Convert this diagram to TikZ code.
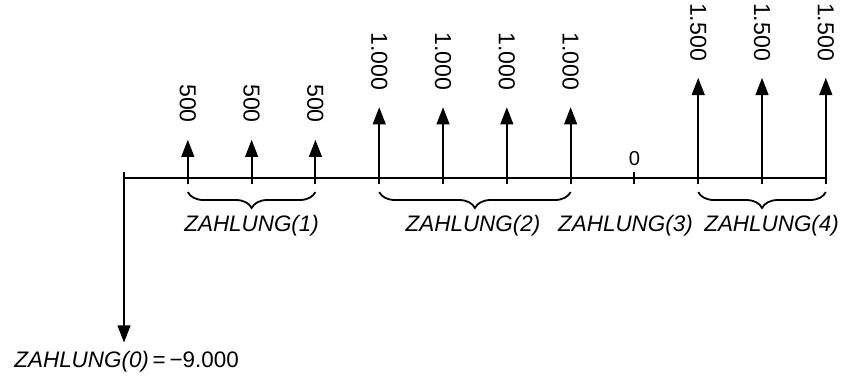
\documentclass[tikz,border=0pt]{standalone}
\usepackage{fontspec}
\setmainfont{Liberation Sans}
\usetikzlibrary{arrows.meta,positioning,decorations.pathreplacing}

\begin{document}
\begin{tikzpicture}[
  >={Triangle[length=2.7mm,width=2mm]},
  line width=0.9pt,
  amount/.style={rotate=-90,anchor=east,inner sep=0pt,
    font=\fontsize{10.3}{12}\selectfont},
  period/.style={inner sep=0pt,font=\fontsize{10}{12}\selectfont\itshape},
  brc/.style={decorate,decoration={brace,mirror,amplitude=2.5mm},
    line width=0.8pt},
  every edge/.style={draw,->,shorten >=2.5mm}
]
\useasboundingbox (-1.944,-3.088) rectangle (11.41,2.79);

% time axis
\coordinate (s0) at (0,0.1);
\coordinate (e0) at (0,-2.58);
\coordinate (tend) at (11,0);
\draw (0,0) -- (tend);
\draw[->] (s0) -- (e0);
\node[inner sep=0pt,font=\fontsize{10}{12}\selectfont] (z0) at (0.04,-2.875)
 {\textit{ZAHLUNG(0)}\,=\,−9.000};

% payments
\coordinate (p1) at (1,-0.1);  \node[amount] (v1) at (1,0.85) {500};
\coordinate (p2) at (2,-0.1);  \node[amount] (v2) at (2,0.85) {500};
\coordinate (p3) at (3,-0.1);  \node[amount] (v3) at (3,0.85) {500};
\coordinate (p4) at (4,-0.1);  \node[amount] (v4) at (4,1.36) {1.000};
\coordinate (p5) at (5,-0.1);  \node[amount] (v5) at (5,1.36) {1.000};
\coordinate (p6) at (6,-0.1);  \node[amount] (v6) at (6,1.36) {1.000};
\coordinate (p7) at (7,-0.1);  \node[amount] (v7) at (7,1.36) {1.000};
\coordinate (p9) at (9,-0.1);  \node[amount] (v9) at (9,1.82) {1.500};
\coordinate (p10) at (10,-0.1); \node[amount] (v10) at (10,1.82) {1.500};
\coordinate (p11) at (11,-0.1); \node[amount] (v11) at (11,1.82) {1.500};

\path (p1) edge (v1)
      (p2) edge (v2)
      (p3) edge (v3)
      (p4) edge (v4)
      (p5) edge (v5)
      (p6) edge (v6)
      (p7) edge (v7)
      (p9) edge (v9)
      (p10) edge (v10)
      (p11) edge (v11);

% zero payment
\coordinate (p8) at (8,-0.1);
\draw (p8) -- (8,0.1);
\node[inner sep=0pt,font=\fontsize{9}{10}\selectfont] (v8) at (8,0.3) {0};

% periods
\draw[brc] ([yshift=-1.2mm]p1) -- ([yshift=-1.2mm]p3);
\draw[brc] ([yshift=-1.2mm]p4) -- ([yshift=-1.2mm]p7);
\draw[brc] ([yshift=-1.2mm]p9) -- ([yshift=-1.2mm]p11);
\node[period] (z1) at (2,-0.75) {ZAHLUNG(1)};
\node[period] (z2) at (5.47,-0.75) {ZAHLUNG(2)};
\node[period] (z3) at (7.86,-0.75) {ZAHLUNG(3)};
\node[period] (z4) at (10.15,-0.75) {ZAHLUNG(4)};
\end{tikzpicture}
\end{document}
